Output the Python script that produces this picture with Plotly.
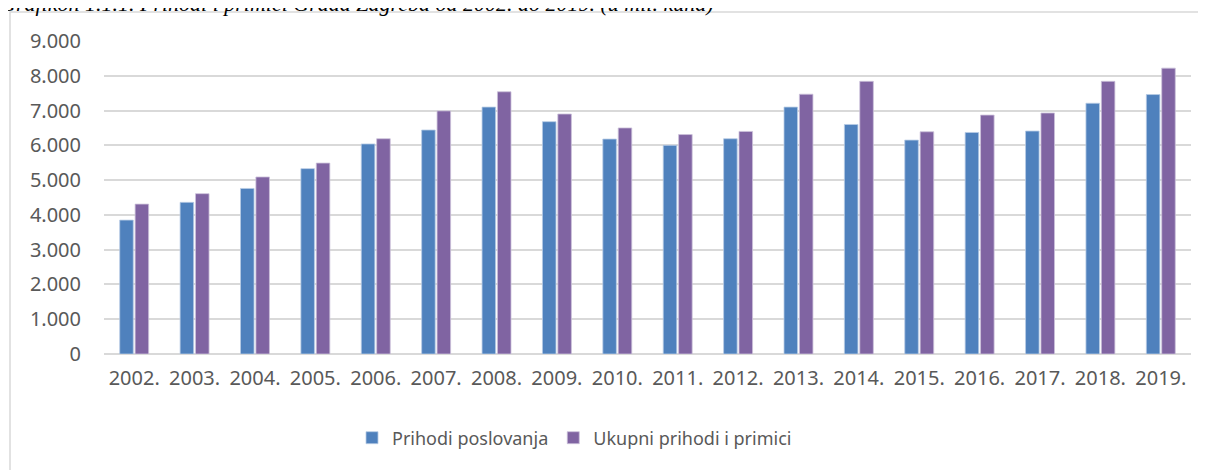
import plotly.graph_objects as go

years = ["2002.", "2003.", "2004.", "2005.", "2006.", "2007.", "2008.", "2009.", "2010.",
         "2011.", "2012.", "2013.", "2014.", "2015.", "2016.", "2017.", "2018.", "2019."]
prihodi_poslovanja = [3850, 4360, 4760, 5330, 6040, 6440, 7100, 6680, 6180,
                      6000, 6190, 7100, 6600, 6150, 6370, 6410, 7210, 7460]
ukupni_prihodi = [4310, 4610, 5090, 5490, 6190, 6990, 7540, 6900, 6500,
                  6310, 6400, 7470, 7840, 6390, 6870, 6930, 7840, 8220]
y_ticks = [0, 1000, 2000, 3000, 4000, 5000, 6000, 7000, 8000, 9000]

# the page body has an 8px margin, so the figure starts at (8, 8) in the window
OFF = 8
W, H = 1206 - OFF, 470 - OFF
PL, PR, PT, PB = 104, 1191, 41, 354          # plot area in window pixels
L, R, T, B = PL - OFF, W - (PR - OFF), PT - OFF, H - (PB - OFF)
pw, ph = PR - PL, PB - PT

def px(x):
    return (x - PL) / pw

def py(y):
    return (PB - y) / ph

fig = go.Figure()
fig.add_trace(go.Bar(x=years, y=prihodi_poslovanja, name="Prihodi poslovanja",
                     marker=dict(color="#4F81BD", line=dict(color="#B8CCE4", width=0.8))))
fig.add_trace(go.Bar(x=years, y=ukupni_prihodi, name="Ukupni prihodi i primici",
                     marker=dict(color="#8064A2", line=dict(color="#CCC1DA", width=0.8))))

fig.update_layout(
    width=W, height=H,
    margin=dict(l=L, r=R, t=T, b=B),
    paper_bgcolor="white", plot_bgcolor="white",
    separators=",.",
    barmode="group", bargap=0.49, bargroupgap=0.12,
    font=dict(family="Noto Sans, Open Sans, sans-serif", color="#595959", size=18),
    showlegend=True,
    legend=dict(orientation="h", x=px(352), xanchor="left", y=py(438), yanchor="middle",
                font=dict(size=18, color="#595959"), itemwidth=30, tracegroupgap=0,
                bgcolor="rgba(0,0,0,0)"),
    xaxis=dict(showgrid=False, showline=False, ticks="", tickfont=dict(size=20, color="#595959"),
               ticklabelstandoff=10),
    yaxis=dict(range=[0, 9000], tickvals=y_ticks, tickformat=",.0f",
               showgrid=True, gridcolor="#D9D9D9", gridwidth=1.5,
               zeroline=True, zerolinecolor="#D9D9D9", zerolinewidth=2,
               showline=False, ticks="", tickfont=dict(size=20, color="#595959"),
               ticklabelstandoff=22),
)

# chart area border
fig.add_shape(type="rect", xref="paper", yref="paper",
              x0=px(10), x1=px(1204), y0=py(480), y1=py(12),
              line=dict(color="#D9D9D9", width=1.5), fillcolor="rgba(0,0,0,0)", layer="below")

# title (partly cut off at the top, as in the source)
fig.add_annotation(text="<i>Grafikon 1.1.1. Prihodi i primici Grada Zagreba od 2002. do 2019. (u mil. kuna)</i>",
                   xref="paper", yref="paper", x=px(-2), y=py(18), xanchor="left", yanchor="bottom",
                   showarrow=False, font=dict(family="Liberation Serif, serif", size=22, color="#000000"))

fig.write_html("out.html")
